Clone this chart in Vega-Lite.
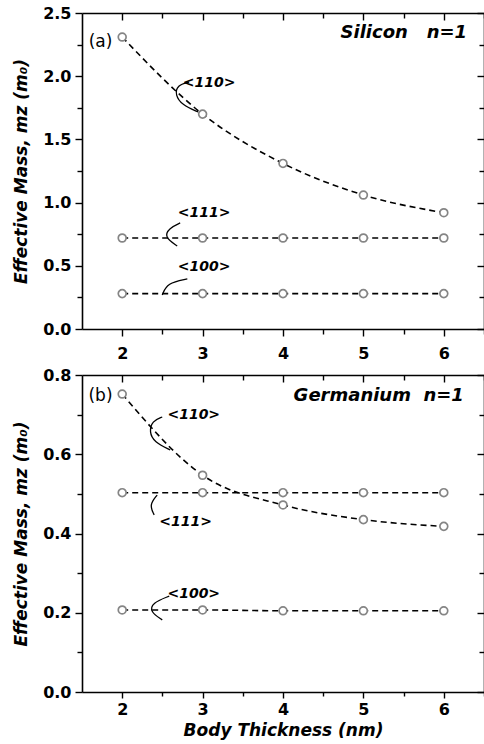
{
  "$schema": "https://vega.github.io/schema/vega-lite/v6.json",
  "padding": {"left": 12, "top": 5, "right": 0, "bottom": 2},
  "spacing": 6,
  "config": {
    "font": "DejaVu Sans",
    "view": {"stroke": null},
    "axis": {
      "grid": false, "domainColor": "black", "tickColor": "black", "labelColor": "black", "titleColor": "black",
      "domainWidth": 1.6, "tickWidth": 1.4, "labelFont": "DejaVu Sans", "labelFontWeight": "bold", "labelFontSize": 16,
      "titleFont": "DejaVu Sans", "titleFontWeight": "bold", "titleFontStyle": "italic", "titleFontSize": 17,
      "labelFlush": false, "labelOverlap": false
    }
  },
  "datasets": {
    "si": [
      {"series": "110", "t": 2, "m": 2.31}, {"series": "110", "t": 3, "m": 1.70}, {"series": "110", "t": 4, "m": 1.31}, {"series": "110", "t": 5, "m": 1.06}, {"series": "110", "t": 6, "m": 0.92},
      {"series": "111", "t": 2, "m": 0.72}, {"series": "111", "t": 3, "m": 0.72}, {"series": "111", "t": 4, "m": 0.72}, {"series": "111", "t": 5, "m": 0.72}, {"series": "111", "t": 6, "m": 0.72},
      {"series": "100", "t": 2, "m": 0.28}, {"series": "100", "t": 3, "m": 0.28}, {"series": "100", "t": 4, "m": 0.28}, {"series": "100", "t": 5, "m": 0.28}, {"series": "100", "t": 6, "m": 0.28}
    ],
    "ge": [
      {"series": "110", "t": 2, "m": 0.752}, {"series": "110", "t": 3, "m": 0.547}, {"series": "110", "t": 4, "m": 0.472}, {"series": "110", "t": 5, "m": 0.435}, {"series": "110", "t": 6, "m": 0.418},
      {"series": "111", "t": 2, "m": 0.503}, {"series": "111", "t": 3, "m": 0.503}, {"series": "111", "t": 4, "m": 0.503}, {"series": "111", "t": 5, "m": 0.503}, {"series": "111", "t": 6, "m": 0.503},
      {"series": "100", "t": 2, "m": 0.207}, {"series": "100", "t": 3, "m": 0.207}, {"series": "100", "t": 4, "m": 0.205}, {"series": "100", "t": 5, "m": 0.205}, {"series": "100", "t": 6, "m": 0.205}
    ],
    "si_labels": [
      {"t": 3.08, "m": 1.95, "label": "<110>"},
      {"t": 3.02, "m": 0.92, "label": "<111>"},
      {"t": 3.02, "m": 0.49, "label": "<100>"}
    ],
    "ge_labels": [
      {"t": 2.89, "m": 0.70, "label": "<110>"},
      {"t": 2.79, "m": 0.43, "label": "<111>"},
      {"t": 2.89, "m": 0.248, "label": "<100>"}
    ],
    "si_arrows": [
      {"id": "a", "seq": 1, "t": 2.945, "m": 1.717}, {"id": "a", "seq": 2, "t": 2.746, "m": 1.772}, {"id": "a", "seq": 3, "t": 2.659, "m": 1.851}, {"id": "a", "seq": 4, "t": 2.684, "m": 1.930}, {"id": "a", "seq": 5, "t": 2.833, "m": 1.954},
      {"id": "b", "seq": 1, "t": 2.684, "m": 0.657}, {"id": "b", "seq": 2, "t": 2.522, "m": 0.728}, {"id": "b", "seq": 3, "t": 2.585, "m": 0.799}, {"id": "b", "seq": 4, "t": 2.721, "m": 0.839},
      {"id": "c", "seq": 1, "t": 2.498, "m": 0.269}, {"id": "c", "seq": 2, "t": 2.56, "m": 0.364}, {"id": "c", "seq": 3, "t": 2.81, "m": 0.396}
    ],
    "ge_arrows": [
      {"id": "a", "seq": 1, "t": 2.498, "m": 0.694}, {"id": "a", "seq": 2, "t": 2.373, "m": 0.684}, {"id": "a", "seq": 3, "t": 2.336, "m": 0.656}, {"id": "a", "seq": 4, "t": 2.398, "m": 0.631}, {"id": "a", "seq": 5, "t": 2.597, "m": 0.611},
      {"id": "b", "seq": 1, "t": 2.435, "m": 0.497}, {"id": "b", "seq": 2, "t": 2.336, "m": 0.472}, {"id": "b", "seq": 3, "t": 2.398, "m": 0.447},
      {"id": "c", "seq": 1, "t": 2.498, "m": 0.182}, {"id": "c", "seq": 2, "t": 2.348, "m": 0.202}, {"id": "c", "seq": 3, "t": 2.373, "m": 0.225}, {"id": "c", "seq": 4, "t": 2.585, "m": 0.242}
    ],
    "si_title": [{"t": 6.29, "m": 2.34, "label": "Silicon\u00a0\u00a0\u00a0n=1"}],
    "ge_title": [{"t": 6.25, "m": 0.746, "label": "Germanium\u00a0\u00a0n=1"}],
    "si_tag": [{"t": 1.73, "m": 2.27, "label": "(a)"}],
    "ge_tag": [{"t": 1.73, "m": 0.746, "label": "(b)"}]
  },
  "vconcat": [
    {
      "width": 402, "height": 316,
      "resolve": {"axis": {"x": "independent", "y": "independent"}},
      "layer": [
        {
          "data": {"name": "si"},
          "mark": {"type": "line", "color": "black", "strokeDash": [6, 4], "strokeWidth": 1.6, "interpolate": "monotone"},
          "encoding": {
            "x": {"field": "t", "type": "quantitative", "scale": {"domain": [1.5, 6.5], "nice": false, "zero": false},
                  "axis": {"title": null, "values": [2, 2.5, 3, 3.5, 4, 4.5, 5, 5.5, 6, 6.5],
                           "tickSize": {"condition": {"test": "datum.value % 1 === 0", "value": 7}, "value": 5},
                           "labelPadding": 9,
                           "labelExpr": "datum.value % 1 === 0 ? format(datum.value, 'd') : ''"}},
            "y": {"field": "m", "type": "quantitative", "scale": {"domain": [0, 2.5], "nice": false},
                  "axis": {"title": "Effective Mass, mz (m₀)", "titlePadding": 12,
                           "values": [0, 0.25, 0.5, 0.75, 1, 1.25, 1.5, 1.75, 2, 2.25, 2.5],
                           "tickSize": {"condition": {"test": "abs(datum.value*2 - round(datum.value*2)) < 0.001", "value": 7}, "value": 5},
                           "labelPadding": 4,
                           "labelExpr": "abs(datum.value*2 - round(datum.value*2)) < 0.001 ? format(datum.value, '.1f') : ''"}},
            "detail": {"field": "series"}
          }
        },
        {
          "data": {"name": "si"},
          "mark": {"type": "point", "shape": "circle", "filled": false, "color": "#858585", "strokeWidth": 1.7, "size": 62, "fill": "white", "fillOpacity": 1},
          "encoding": {
            "x": {"field": "t", "type": "quantitative",
                  "axis": {"orient": "top", "title": null, "labels": false, "values": [2, 2.5, 3, 3.5, 4, 4.5, 5, 5.5, 6, 6.5],
                           "tickSize": {"condition": {"test": "datum.value % 1 === 0", "value": -7}, "value": -5}}},
            "y": {"field": "m", "type": "quantitative",
                  "axis": {"orient": "right", "title": null, "labels": false,
                           "values": [0, 0.25, 0.5, 0.75, 1, 1.25, 1.5, 1.75, 2, 2.25, 2.5],
                           "tickSize": {"condition": {"test": "abs(datum.value*2 - round(datum.value*2)) < 0.001", "value": -7}, "value": -5}}}
          }
        },
        {
          "data": {"name": "si_arrows"},
          "mark": {"type": "line", "color": "black", "strokeWidth": 1.3, "interpolate": "basis"},
          "encoding": {
            "x": {"field": "t", "type": "quantitative", "axis": null},
            "y": {"field": "m", "type": "quantitative", "axis": null},
            "detail": {"field": "id"},
            "order": {"field": "seq"}
          }
        },
        {
          "data": {"name": "si_labels"},
          "mark": {"type": "text", "font": "DejaVu Sans", "fontWeight": "bold", "fontStyle": "italic", "fontSize": 14, "color": "black"},
          "encoding": {
            "x": {"field": "t", "type": "quantitative", "axis": null},
            "y": {"field": "m", "type": "quantitative", "axis": null},
            "text": {"field": "label"}
          }
        },
        {
          "data": {"name": "si_title"},
          "mark": {"type": "text", "font": "DejaVu Sans", "fontWeight": "bold", "fontStyle": "italic", "fontSize": 18, "color": "black", "align": "right"},
          "encoding": {
            "x": {"field": "t", "type": "quantitative", "axis": null},
            "y": {"field": "m", "type": "quantitative", "axis": null},
            "text": {"field": "label"}
          }
        },
        {
          "data": {"name": "si_tag"},
          "mark": {"type": "text", "font": "DejaVu Sans", "fontSize": 17, "color": "black"},
          "encoding": {
            "x": {"field": "t", "type": "quantitative", "axis": null},
            "y": {"field": "m", "type": "quantitative", "axis": null},
            "text": {"field": "label"}
          }
        }
      ]
    },
    {
      "width": 402, "height": 317,
      "resolve": {"axis": {"x": "independent", "y": "independent"}},
      "layer": [
        {
          "data": {"name": "ge"},
          "mark": {"type": "line", "color": "black", "strokeDash": [6, 4], "strokeWidth": 1.6, "interpolate": "monotone"},
          "encoding": {
            "x": {"field": "t", "type": "quantitative", "scale": {"domain": [1.5, 6.5], "nice": false, "zero": false},
                  "axis": {"title": "Body Thickness (nm)", "titlePadding": 5, "values": [2, 2.5, 3, 3.5, 4, 4.5, 5, 5.5, 6, 6.5],
                           "tickSize": {"condition": {"test": "datum.value % 1 === 0", "value": 6}, "value": 4},
                           "labelPadding": 3,
                           "labelExpr": "datum.value % 1 === 0 ? format(datum.value, 'd') : ''"}},
            "y": {"field": "m", "type": "quantitative", "scale": {"domain": [0, 0.8], "nice": false},
                  "axis": {"title": "Effective Mass, mz (m₀)", "titlePadding": 12,
                           "values": [0, 0.1, 0.2, 0.3, 0.4, 0.5, 0.6, 0.7, 0.8],
                           "tickSize": {"condition": {"test": "round(datum.value*10) % 2 === 0", "value": 7}, "value": 5},
                           "labelPadding": 4,
                           "labelExpr": "round(datum.value*10) % 2 === 0 ? format(datum.value, '.1f') : ''"}},
            "detail": {"field": "series"}
          }
        },
        {
          "data": {"name": "ge"},
          "mark": {"type": "point", "shape": "circle", "filled": false, "color": "#858585", "strokeWidth": 1.7, "size": 62, "fill": "white", "fillOpacity": 1},
          "encoding": {
            "x": {"field": "t", "type": "quantitative",
                  "axis": {"orient": "top", "title": null, "labels": false, "values": [2, 2.5, 3, 3.5, 4, 4.5, 5, 5.5, 6, 6.5],
                           "tickSize": {"condition": {"test": "datum.value % 1 === 0", "value": -7}, "value": -5}}},
            "y": {"field": "m", "type": "quantitative",
                  "axis": {"orient": "right", "title": null, "labels": false,
                           "values": [0, 0.1, 0.2, 0.3, 0.4, 0.5, 0.6, 0.7, 0.8],
                           "tickSize": {"condition": {"test": "round(datum.value*10) % 2 === 0", "value": -7}, "value": -5}}}
          }
        },
        {
          "data": {"name": "ge_arrows"},
          "mark": {"type": "line", "color": "black", "strokeWidth": 1.3, "interpolate": "basis"},
          "encoding": {
            "x": {"field": "t", "type": "quantitative", "axis": null},
            "y": {"field": "m", "type": "quantitative", "axis": null},
            "detail": {"field": "id"},
            "order": {"field": "seq"}
          }
        },
        {
          "data": {"name": "ge_labels"},
          "mark": {"type": "text", "font": "DejaVu Sans", "fontWeight": "bold", "fontStyle": "italic", "fontSize": 14, "color": "black"},
          "encoding": {
            "x": {"field": "t", "type": "quantitative", "axis": null},
            "y": {"field": "m", "type": "quantitative", "axis": null},
            "text": {"field": "label"}
          }
        },
        {
          "data": {"name": "ge_title"},
          "mark": {"type": "text", "font": "DejaVu Sans", "fontWeight": "bold", "fontStyle": "italic", "fontSize": 18, "color": "black", "align": "right"},
          "encoding": {
            "x": {"field": "t", "type": "quantitative", "axis": null},
            "y": {"field": "m", "type": "quantitative", "axis": null},
            "text": {"field": "label"}
          }
        },
        {
          "data": {"name": "ge_tag"},
          "mark": {"type": "text", "font": "DejaVu Sans", "fontSize": 17, "color": "black"},
          "encoding": {
            "x": {"field": "t", "type": "quantitative", "axis": null},
            "y": {"field": "m", "type": "quantitative", "axis": null},
            "text": {"field": "label"}
          }
        }
      ]
    }
  ]
}
